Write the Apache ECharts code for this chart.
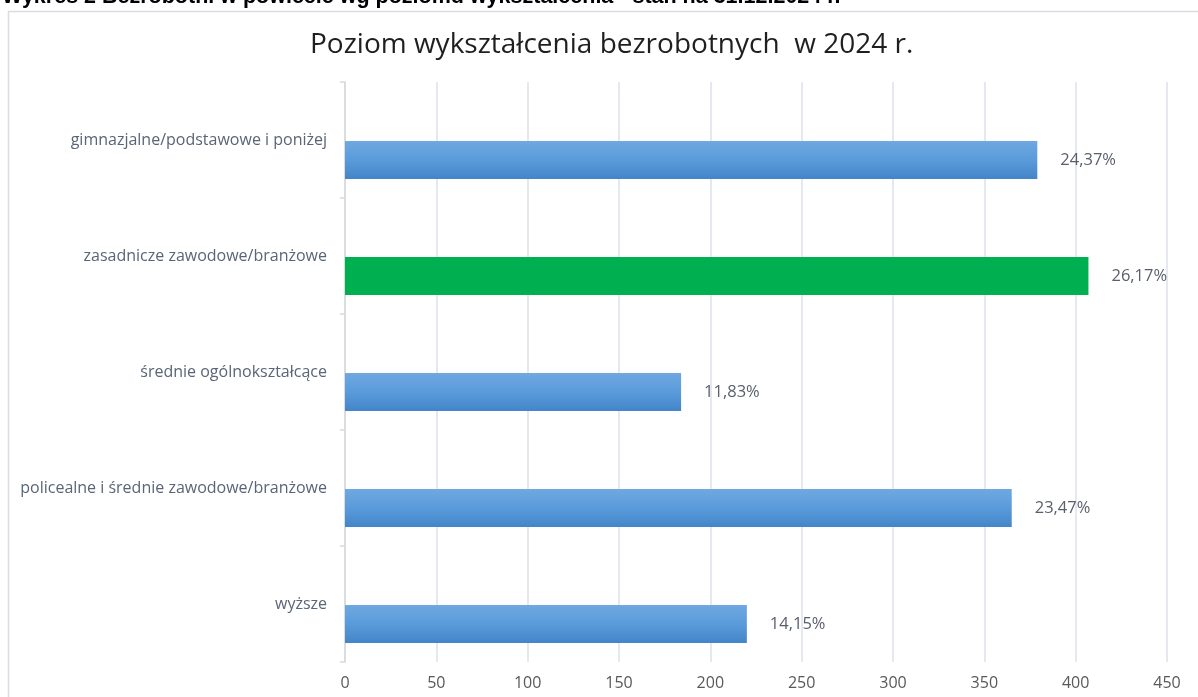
<!DOCTYPE html>
<html>
<head>
<meta charset="utf-8">
<script src="https://cdn.jsdelivr.net/npm/echarts@6/dist/echarts.min.js"></script>
<style>
  html, body { margin: 0; padding: 0; background: #fff; }
  #chart { width: 1198px; height: 697px; }
</style>
</head>
<body>
<div id="chart"></div>
<script>
  // poziom wykształcenia - liczba bezrobotnych (stan na 31.12.2024)
  var categories = [
    'gimnazjalne/podstawowe i poniżej',
    'zasadnicze zawodowe/branżowe',
    'średnie ogólnokształcące',
    'policealne i średnie zawodowe/branżowe',
    'wyższe'
  ];
  var counts = [379, 407, 184, 365, 220];
  var shares = ['24,37%', '26,17%', '11,83%', '23,47%', '14,15%'];
  var xTicks = { min: 0, max: 450, interval: 50 };

  var blueGrad = new echarts.graphic.LinearGradient(0, 0, 0, 1, [
    { offset: 0, color: '#70a8e0' },
    { offset: 0.5, color: '#5a9bdb' },
    { offset: 1, color: '#4385c8' }
  ]);
  var green = '#00b050';

  var chart = echarts.init(document.getElementById('chart'));
  chart.setOption({
    animation: false,
    title: {
      text: 'Poziom wykształcenia bezrobotnych  w 2024 r.',
      left: 305,
      top: 26,
      textStyle: {
        fontFamily: 'Open Sans',
        fontSize: 28,
        fontWeight: 'normal',
        color: '#1f1f1f'
      }
    },
    graphic: [
      {
        type: 'rect',
        shape: { x: 8.5, y: 11.5, width: 1200, height: 700 },
        style: { fill: 'none', stroke: '#d9dce2', lineWidth: 1.5 },
        silent: true
      },
      {
        type: 'text',
        style: {
          x: 2,
          y: 8,
          text: 'Wykres 2 Bezrobotni w powiecie wg poziomu wykształcenia - stan na 31.12.2024 r.',
          font: 'bold 21.5px "Liberation Sans"',
          fill: '#000',
          verticalAlign: 'bottom'
        },
        silent: true
      }
    ],
    grid: { left: 345, right: 31, top: 82, bottom: 35 },
    xAxis: {
      type: 'value',
      min: xTicks.min,
      max: xTicks.max,
      interval: xTicks.interval,
      axisLine: { show: false },
      axisTick: { show: false },
      axisLabel: { color: '#595959', fontSize: 16, fontFamily: 'Open Sans', margin: 13 },
      splitLine: { lineStyle: { color: '#dde1e8', width: 1.5 } }
    },
    yAxis: {
      type: 'category',
      inverse: true,
      data: categories,
      axisLine: { lineStyle: { color: '#d9d9d9', width: 1.5 } },
      axisTick: { show: true, length: 5, lineStyle: { color: '#d9d9d9', width: 1.5 } },
      axisLabel: { color: '#5a6577', fontSize: 16, fontFamily: 'Open Sans', margin: 18 }
    },
    series: [
      {
        // empty slot, keeps the bar below the band centre like the original
        name: 'spacer',
        type: 'bar',
        barWidth: 38,
        barGap: '5%',
        data: categories.map(function () { return null; }),
        silent: true
      },
      {
        name: 'bezrobotni',
        type: 'bar',
        barWidth: 38,
        barGap: '5%',
        data: counts.map(function (v, i) {
          return { value: v, itemStyle: { color: i === 1 ? green : blueGrad } };
        }),
        label: {
          show: true,
          position: 'right',
          distance: 23,
          color: '#595f6b',
          fontSize: 16.5,
          fontFamily: 'Open Sans',
          formatter: function (p) { return shares[p.dataIndex]; }
        }
      }
    ]
  });
</script>
</body>
</html>
